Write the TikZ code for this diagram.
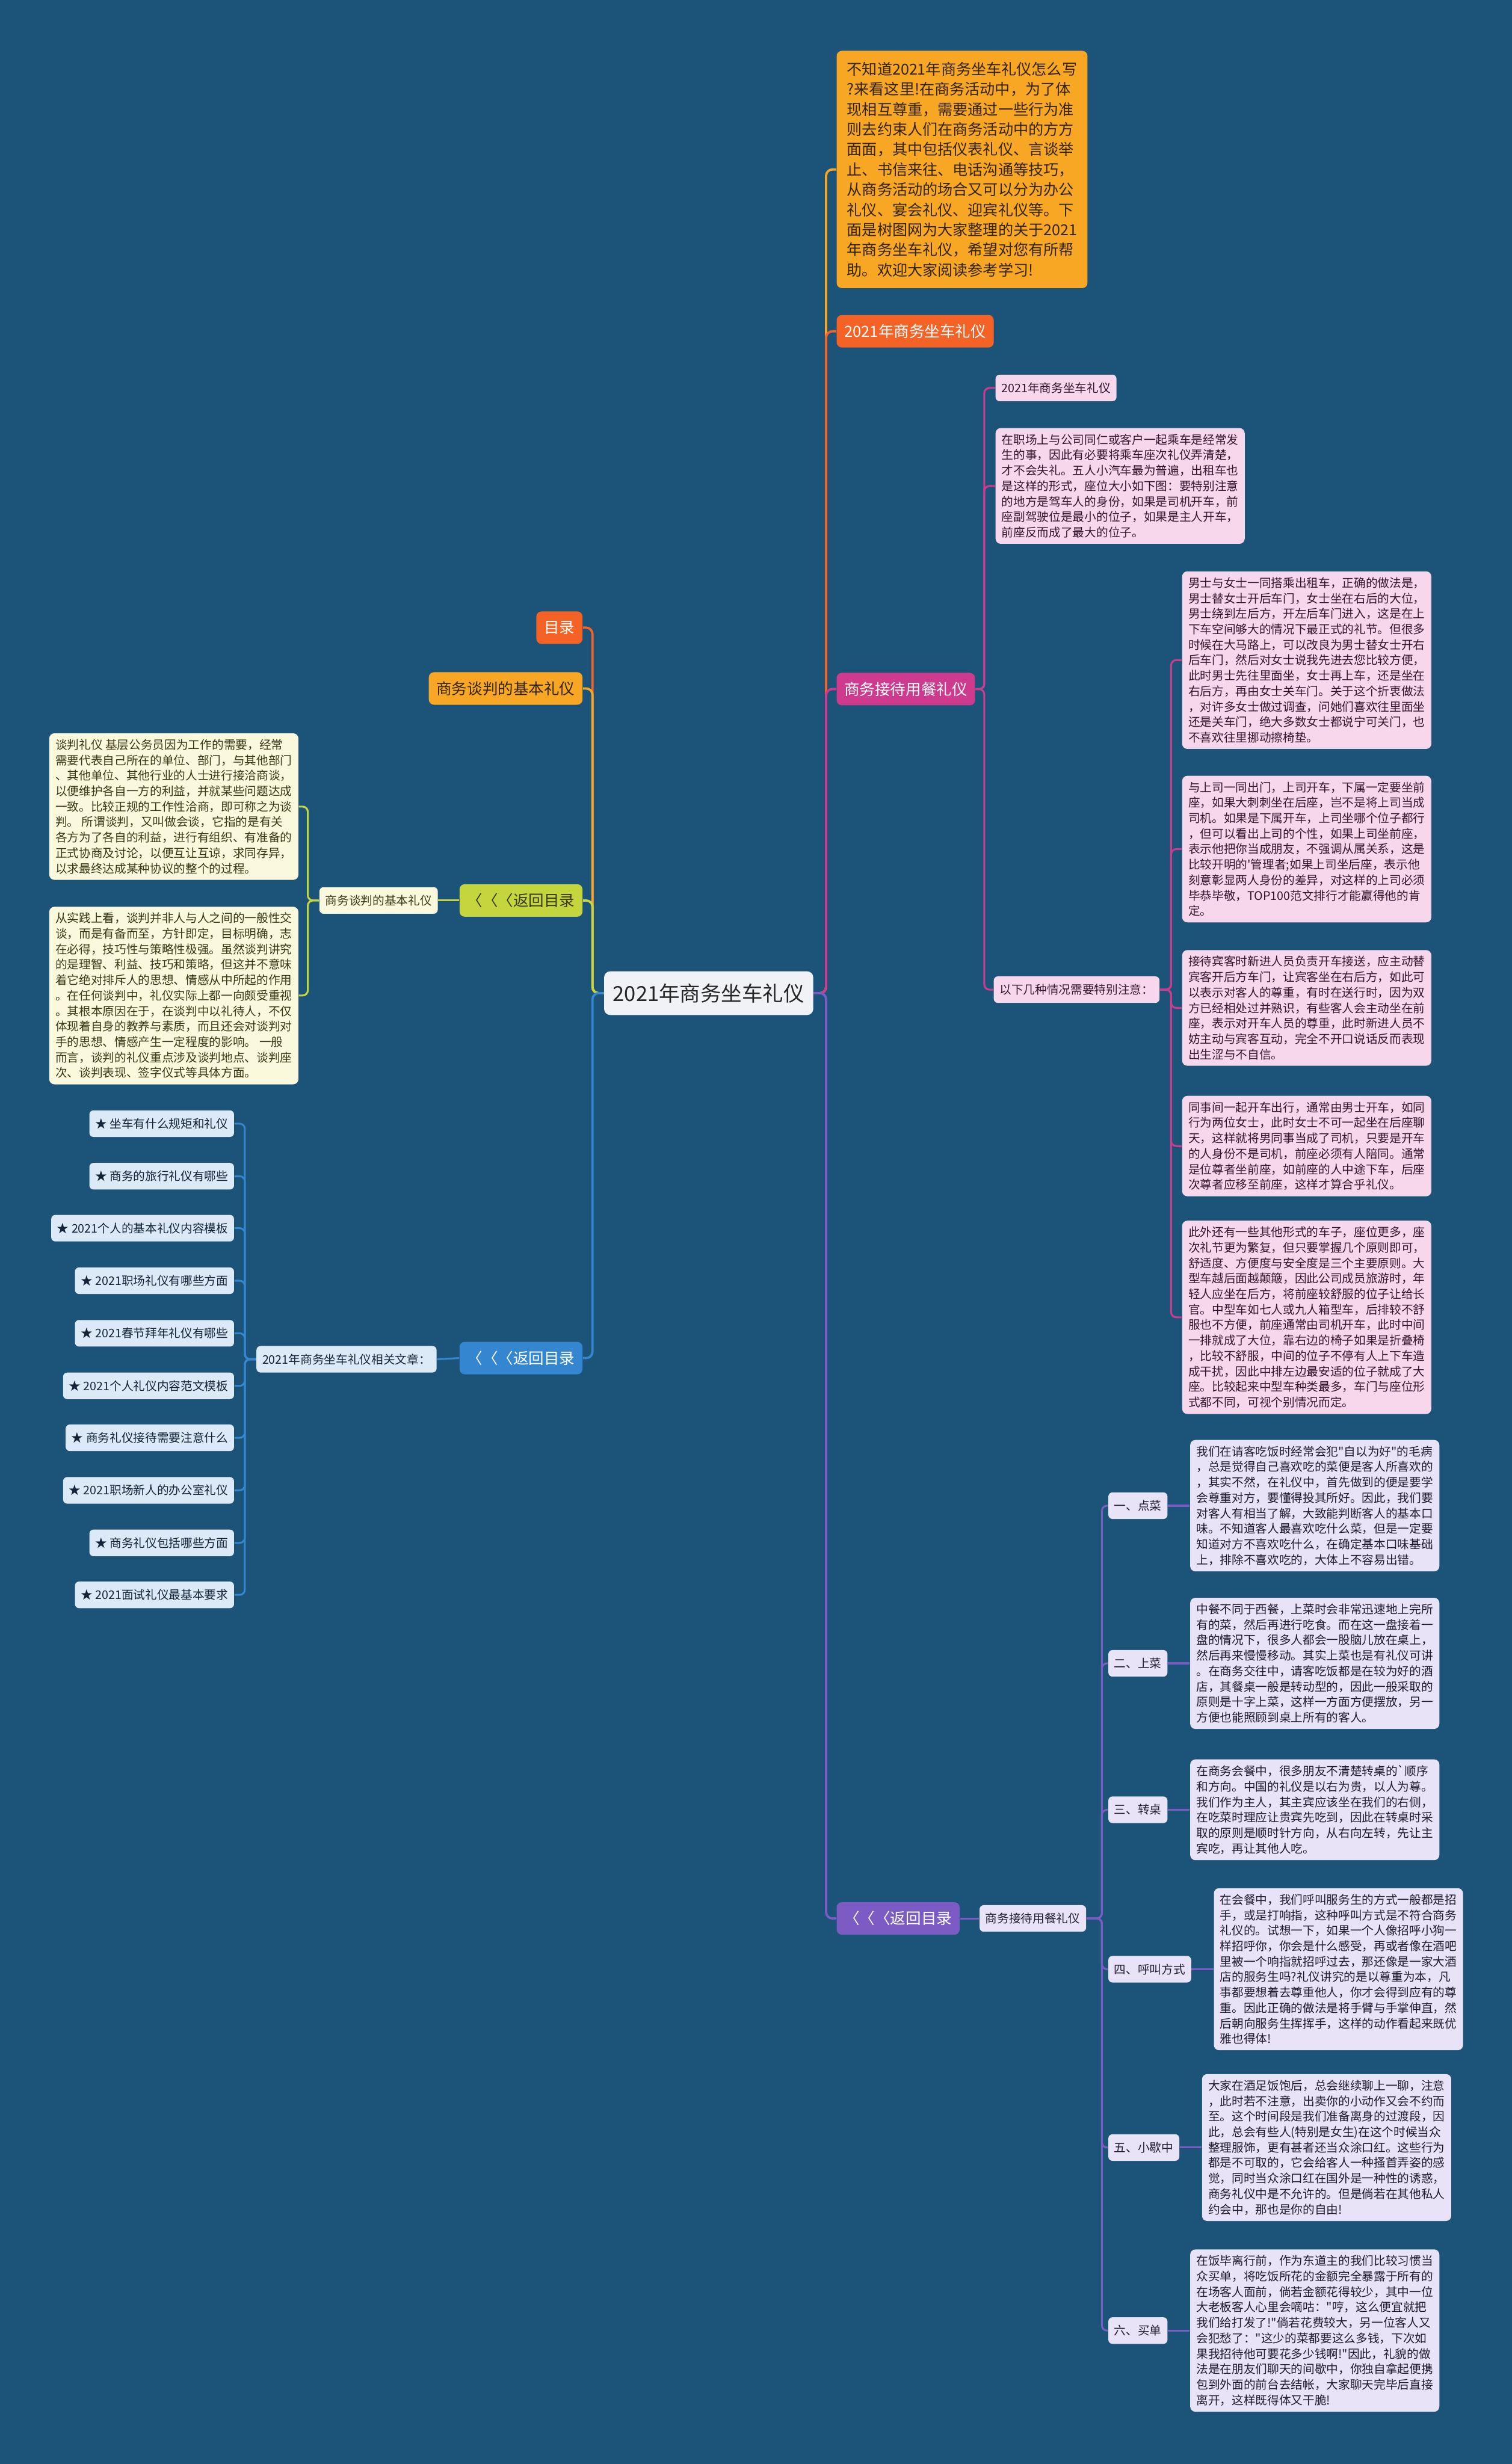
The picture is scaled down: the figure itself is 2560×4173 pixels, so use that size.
\documentclass[tikz,border=0pt]{standalone}
\usepackage{fontspec}
\setmainfont{Noto Sans CJK SC}[Ligatures=TeXOff]
\usetikzlibrary{positioning}

\definecolor{fondo}{RGB}{27,84,120}
\definecolor{naranja}{RGB}{247,167,36}
\definecolor{rojo}{RGB}{244,98,38}
\definecolor{rosa}{RGB}{205,58,142}
\definecolor{morado}{RGB}{124,92,196}
\definecolor{verde}{RGB}{197,213,62}
\definecolor{azul}{RGB}{52,134,208}
\definecolor{gris}{RGB}{240,242,246}
\definecolor{rosaclaro}{RGB}{246,215,235}
\definecolor{lilaclaro}{RGB}{232,227,246}
\definecolor{amarilloclaro}{RGB}{250,249,222}
\definecolor{azulclaro}{RGB}{220,234,248}
\definecolor{marron}{RGB}{52,36,6}
\definecolor{tinto}{RGB}{52,20,46}
\definecolor{oliva}{RGB}{56,56,20}
\definecolor{azuloscuro}{RGB}{20,36,56}
\definecolor{lila}{RGB}{32,26,46}

\begin{document}
\begin{tikzpicture}[
        x=0.01cm, y=-0.01cm,
        raiz/.style={rounded corners=3pt, fill=gris, text=black!85, inner xsep=0.15cm, minimum height=0.74cm, font=\fontsize{10}{12}\selectfont},
        rama/.style={rounded corners=2.5pt, inner xsep=0.13cm, minimum height=0.55cm, font=\fontsize{7.4}{9}\selectfont},
        hoja/.style={rounded corners=2pt, inner xsep=0.1cm, minimum height=0.45cm, font=\fontsize{5.7}{7.45}\selectfont},
        texto/.style={rounded corners=2.5pt, align=left, inner xsep=0.105cm, inner ysep=0.1cm, font=\fontsize{5.7}{7.45}\selectfont},
        enlace/.style={line width=1.1pt, rounded corners=3pt},
        sub/.style={line width=0.9pt, rounded corners=2.5pt}
    ]
        % --- Fondo ---
        \fill[fondo] (0,0) rectangle (2560,4173);
        \useasboundingbox (0,0) rectangle (2560,4173);

        % --- Nodo central ---
        \node[raiz] (raiz) at (1200,1682) {2021年商务坐车礼仪};

        % --- Ramas de la derecha ---
        \node[texto, fill=naranja, text=marron, anchor=west, inner xsep=0.175cm, inner ysep=0.19cm,
              font=\fontsize{7.28}{9.67}\selectfont] (intro) at (1416,287)
            {不知道2021年商务坐车礼仪怎么写\\
             ?来看这里!在商务活动中，为了体\\
             现相互尊重，需要通过一些行为准\\
             则去约束人们在商务活动中的方方\\
             面面，其中包括仪表礼仪、言谈举\\
             止、书信来往、电话沟通等技巧，\\
             从商务活动的场合又可以分为办公\\
             礼仪、宴会礼仪、迎宾礼仪等。下\\
             面是树图网为大家整理的关于2021\\
             年商务坐车礼仪，希望对您有所帮\\
             助。欢迎大家阅读参考学习!};
        \node[rama, fill=rojo, text=white, anchor=west] (titulo) at (1416,561) {2021年商务坐车礼仪};
        \node[rama, fill=rosa, text=white, anchor=west] (recepcion) at (1416,1167) {商务接待用餐礼仪};
        \node[rama, fill=morado, text=white, anchor=west] (volver3) at (1416,3249) {〈〈〈返回目录};

        % --- Ramas de la izquierda ---
        \node[rama, fill=rojo, text=white, anchor=east] (indice) at (987,1063) {目录};
        \node[rama, fill=naranja, text=marron, anchor=east] (negocia) at (987,1166) {商务谈判的基本礼仪};
        \node[rama, fill=verde, text=oliva, anchor=east] (volver1) at (987,1525) {〈〈〈返回目录};
        \node[rama, fill=azul, text=white, anchor=east] (volver2) at (987,2300) {〈〈〈返回目录};

        % Conectores del nodo central
        \draw[enlace, naranja] (raiz.east) -- ++(21,0) |- (intro.west);
        \draw[enlace, rojo] (raiz.east) -- ++(21,0) |- (titulo.west);
        \draw[enlace, rosa] (raiz.east) -- ++(21,0) |- (recepcion.west);
        \draw[enlace, morado] (raiz.east) -- ++(21,0) |- (volver3.west);
        \draw[enlace, rojo] (raiz.west) -- ++(-19,0) |- (indice.east);
        \draw[enlace, naranja] (raiz.west) -- ++(-19,0) |- (negocia.east);
        \draw[enlace, verde] (raiz.west) -- ++(-19,0) |- (volver1.east);
        \draw[enlace, azul] (raiz.west) -- ++(-19,0) |- (volver2.east);

        % --- 1. Recepcion: asientos en el coche ---
        \node[hoja, fill=rosaclaro, text=tinto, anchor=west] (sub1) at (1685,657) {2021年商务坐车礼仪};
        \node[texto, fill=rosaclaro, text=tinto, anchor=west] (asiento) at (1685,823)
            {在职场上与公司同仁或客户一起乘车是经常发\\
             生的事，因此有必要将乘车座次礼仪弄清楚，\\
             才不会失礼。五人小汽车最为普遍，出租车也\\
             是这样的形式，座位大小如下图：要特别注意\\
             的地方是驾车人的身份，如果是司机开车，前\\
             座副驾驶位是最小的位子，如果是主人开车，\\
             前座反而成了最大的位子。};
        \node[hoja, fill=rosaclaro, text=tinto, anchor=west] (atencion) at (1682,1676) {以下几种情况需要特别注意：};

        \node[texto, fill=rosaclaro, text=tinto, anchor=west] (c1) at (2001,1118)
            {男士与女士一同搭乘出租车，正确的做法是，\\
             男士替女士开后车门，女士坐在右后的大位，\\
             男士绕到左后方，开左后车门进入，这是在上\\
             下车空间够大的情况下最正式的礼节。但很多\\
             时候在大马路上，可以改良为男士替女士开右\\
             后车门，然后对女士说我先进去您比较方便，\\
             此时男士先往里面坐，女士再上车，还是坐在\\
             右后方，再由女士关车门。关于这个折衷做法\\
             ，对许多女士做过调查，问她们喜欢往里面坐\\
             还是关车门，绝大多数女士都说宁可关门，也\\
             不喜欢往里挪动擦椅垫。};
        \node[texto, fill=rosaclaro, text=tinto, anchor=west] (c2) at (2001,1438)
            {与上司一同出门，上司开车，下属一定要坐前\\
             座，如果大刺刺坐在后座，岂不是将上司当成\\
             司机。如果是下属开车，上司坐哪个位子都行\\
             ，但可以看出上司的个性，如果上司坐前座，\\
             表示他把你当成朋友，不强调从属关系，这是\\
             比较开明的'管理者;如果上司坐后座，表示他\\
             刻意彰显两人身份的差异，对这样的上司必须\\
             毕恭毕敬，TOP100范文排行才能赢得他的肯\\
             定。};
        \node[texto, fill=rosaclaro, text=tinto, anchor=west] (c3) at (2001,1707)
            {接待宾客时新进人员负责开车接送，应主动替\\
             宾客开后方车门，让宾客坐在右后方，如此可\\
             以表示对客人的尊重，有时在送行时，因为双\\
             方已经相处过并熟识，有些客人会主动坐在前\\
             座，表示对开车人员的尊重，此时新进人员不\\
             妨主动与宾客互动，完全不开口说话反而表现\\
             出生涩与不自信。};
        \node[texto, fill=rosaclaro, text=tinto, anchor=west] (c4) at (2001,1941)
            {同事间一起开车出行，通常由男士开车，如同\\
             行为两位女士，此时女士不可一起坐在后座聊\\
             天，这样就将男同事当成了司机，只要是开车\\
             的人身份不是司机，前座必须有人陪同。通常\\
             是位尊者坐前座，如前座的人中途下车，后座\\
             次尊者应移至前座，这样才算合乎礼仪。};
        \node[texto, fill=rosaclaro, text=tinto, anchor=west] (c5) at (2001,2231)
            {此外还有一些其他形式的车子，座位更多，座\\
             次礼节更为繁复，但只要掌握几个原则即可，\\
             舒适度、方便度与安全度是三个主要原则。大\\
             型车越后面越颠簸，因此公司成员旅游时，年\\
             轻人应坐在后方，将前座较舒服的位子让给长\\
             官。中型车如七人或九人箱型车，后排较不舒\\
             服也不方便，前座通常由司机开车，此时中间\\
             一排就成了大位，靠右边的椅子如果是折叠椅\\
             ，比较不舒服，中间的位子不停有人上下车造\\
             成干扰，因此中排左边最安适的位子就成了大\\
             座。比较起来中型车种类最多，车门与座位形\\
             式都不同，可视个别情况而定。};

        \draw[sub, rosa] (recepcion.east) -- ++(15,0) |- (sub1.west);
        \draw[sub, rosa] (recepcion.east) -- ++(15,0) |- (asiento.west);
        \draw[sub, rosa] (recepcion.east) -- ++(15,0) |- (atencion.west);
        \draw[sub, rosa] (atencion.east) -- ++(19,0) |- (c1.west);
        \draw[sub, rosa] (atencion.east) -- ++(19,0) |- (c2.west);
        \draw[sub, rosa] (atencion.east) -- ++(19,0) |- (c3.west);
        \draw[sub, rosa] (atencion.east) -- ++(19,0) |- (c4.west);
        \draw[sub, rosa] (atencion.east) -- ++(19,0) |- (c5.west);

        % --- 2. Comida de negocios ---
        \node[hoja, fill=lilaclaro, text=lila, anchor=west] (comida) at (1658,3249) {商务接待用餐礼仪};
        \node[hoja, fill=lilaclaro, text=lila, anchor=west] (d1) at (1876,2550) {一、点菜};
        \node[hoja, fill=lilaclaro, text=lila, anchor=west] (d2) at (1876,2817) {二、上菜};
        \node[hoja, fill=lilaclaro, text=lila, anchor=west] (d3) at (1876,3065) {三、转桌};
        \node[hoja, fill=lilaclaro, text=lila, anchor=west] (d4) at (1876,3335) {四、呼叫方式};
        \node[hoja, fill=lilaclaro, text=lila, anchor=west] (d5) at (1876,3637) {五、小歇中};
        \node[hoja, fill=lilaclaro, text=lila, anchor=west] (d6) at (1876,3947) {六、买单};

        \node[texto, fill=lilaclaro, text=lila, right=0.37cm of d1] (t1)
            {我们在请客吃饭时经常会犯"自以为好"的毛病\\
             ，总是觉得自己喜欢吃的菜便是客人所喜欢的\\
             ，其实不然，在礼仪中，首先做到的便是要学\\
             会尊重对方，要懂得投其所好。因此，我们要\\
             对客人有相当了解，大致能判断客人的基本口\\
             味。不知道客人最喜欢吃什么菜，但是一定要\\
             知道对方不喜欢吃什么，在确定基本口味基础\\
             上，排除不喜欢吃的，大体上不容易出错。};
        \node[texto, fill=lilaclaro, text=lila, right=0.37cm of d2] (t2)
            {中餐不同于西餐，上菜时会非常迅速地上完所\\
             有的菜，然后再进行吃食。而在这一盘接着一\\
             盘的情况下，很多人都会一股脑儿放在桌上，\\
             然后再来慢慢移动。其实上菜也是有礼仪可讲\\
             。在商务交往中，请客吃饭都是在较为好的酒\\
             店，其餐桌一般是转动型的，因此一般采取的\\
             原则是十字上菜，这样一方面方便摆放，另一\\
             方便也能照顾到桌上所有的客人。};
        \node[texto, fill=lilaclaro, text=lila, right=0.37cm of d3] (t3)
            {在商务会餐中，很多朋友不清楚转桌的`顺序\\
             和方向。中国的礼仪是以右为贵，以人为尊。\\
             我们作为主人，其主宾应该坐在我们的右侧，\\
             在吃菜时理应让贵宾先吃到，因此在转桌时采\\
             取的原则是顺时针方向，从右向左转，先让主\\
             宾吃，再让其他人吃。};
        \node[texto, fill=lilaclaro, text=lila, right=0.37cm of d4] (t4)
            {在会餐中，我们呼叫服务生的方式一般都是招\\
             手，或是打响指，这种呼叫方式是不符合商务\\
             礼仪的。试想一下，如果一个人像招呼小狗一\\
             样招呼你，你会是什么感受，再或者像在酒吧\\
             里被一个响指就招呼过去，那还像是一家大酒\\
             店的服务生吗?礼仪讲究的是以尊重为本，凡\\
             事都要想着去尊重他人，你才会得到应有的尊\\
             重。因此正确的做法是将手臂与手掌伸直，然\\
             后朝向服务生挥挥手，这样的动作看起来既优\\
             雅也得体!};
        \node[texto, fill=lilaclaro, text=lila, right=0.37cm of d5] (t5)
            {大家在酒足饭饱后，总会继续聊上一聊，注意\\
             ，此时若不注意，出卖你的小动作又会不约而\\
             至。这个时间段是我们准备离身的过渡段，因\\
             此，总会有些人(特别是女生)在这个时候当众\\
             整理服饰，更有甚者还当众涂口红。这些行为\\
             都是不可取的，它会给客人一种搔首弄姿的感\\
             觉，同时当众涂口红在国外是一种性的诱惑，\\
             商务礼仪中是不允许的。但是倘若在其他私人\\
             约会中，那也是你的自由!};
        \node[texto, fill=lilaclaro, text=lila, right=0.37cm of d6] (t6)
            {在饭毕离行前，作为东道主的我们比较习惯当\\
             众买单，将吃饭所花的金额完全暴露于所有的\\
             在场客人面前，倘若金额花得较少，其中一位\\
             大老板客人心里会嘀咕："哼，这么便宜就把\\
             我们给打发了!"倘若花费较大，另一位客人又\\
             会犯愁了："这少的菜都要这么多钱，下次如\\
             果我招待他可要花多少钱啊!"因此，礼貌的做\\
             法是在朋友们聊天的间歇中，你独自拿起便携\\
             包到外面的前台去结帐，大家聊天完毕后直接\\
             离开，这样既得体又干脆!};

        \draw[sub, morado] (volver3.east) -- (comida.west);
        \draw[sub, morado] (comida.east) -- ++(26,0) |- (d1.west);
        \draw[sub, morado] (comida.east) -- ++(26,0) |- (d2.west);
        \draw[sub, morado] (comida.east) -- ++(26,0) |- (d3.west);
        \draw[sub, morado] (comida.east) -- ++(26,0) |- (d4.west);
        \draw[sub, morado] (comida.east) -- ++(26,0) |- (d5.west);
        \draw[sub, morado] (comida.east) -- ++(26,0) |- (d6.west);
        \draw[sub, morado] (d1.east) -- (t1.west);
        \draw[sub, morado] (d2.east) -- (t2.west);
        \draw[sub, morado] (d3.east) -- (t3.west);
        \draw[sub, morado] (d4.east) -- (t4.west);
        \draw[sub, morado] (d5.east) -- (t5.west);
        \draw[sub, morado] (d6.east) -- (t6.west);

        % --- 3. Negociacion ---
        \node[hoja, fill=amarilloclaro, text=oliva, anchor=east] (negocia2) at (742,1525) {商务谈判的基本礼仪};
        \node[texto, fill=amarilloclaro, text=oliva, anchor=east] (n1) at (506,1366)
            {谈判礼仪 基层公务员因为工作的需要，经常\\
             需要代表自己所在的单位、部门，与其他部门\\
             、其他单位、其他行业的人士进行接洽商谈，\\
             以便维护各自一方的利益，并就某些问题达成\\
             一致。比较正规的工作性洽商，即可称之为谈\\
             判。 所谓谈判，又叫做会谈，它指的是有关\\
             各方为了各自的利益，进行有组织、有准备的\\
             正式协商及讨论，以便互让互谅，求同存异，\\
             以求最终达成某种协议的整个的过程。};
        \node[texto, fill=amarilloclaro, text=oliva, anchor=east] (n2) at (506,1686)
            {从实践上看，谈判并非人与人之间的一般性交\\
             谈，而是有备而至，方针即定，目标明确，志\\
             在必得，技巧性与策略性极强。虽然谈判讲究\\
             的是理智、利益、技巧和策略，但这并不意味\\
             着它绝对排斥人的思想、情感从中所起的作用\\
             。在任何谈判中，礼仪实际上都一向颇受重视\\
             。其根本原因在于，在谈判中以礼待人，不仅\\
             体现着自身的教养与素质，而且还会对谈判对\\
             手的思想、情感产生一定程度的影响。 一般\\
             而言，谈判的礼仪重点涉及谈判地点、谈判座\\
             次、谈判表现、签字仪式等具体方面。};

        \draw[sub, verde] (volver1.west) -- (negocia2.east);
        \draw[sub, verde] (negocia2.west) -- ++(-19,0) |- (n1.east);
        \draw[sub, verde] (negocia2.west) -- ++(-19,0) |- (n2.east);

        % --- 4. Articulos relacionados ---
        \node[hoja, fill=azulclaro, text=azuloscuro, anchor=east] (articulos) at (740,2302) {2021年商务坐车礼仪相关文章：};
        \node[hoja, fill=azulclaro, text=azuloscuro, anchor=east] (a1) at (397,1903) {★ 坐车有什么规矩和礼仪};
        \node[hoja, fill=azulclaro, text=azuloscuro, anchor=east] (a2) at (397,1992) {★ 商务的旅行礼仪有哪些};
        \node[hoja, fill=azulclaro, text=azuloscuro, anchor=east] (a3) at (397,2080) {★ 2021个人的基本礼仪内容模板};
        \node[hoja, fill=azulclaro, text=azuloscuro, anchor=east] (a4) at (397,2169) {★ 2021职场礼仪有哪些方面};
        \node[hoja, fill=azulclaro, text=azuloscuro, anchor=east] (a5) at (397,2258) {★ 2021春节拜年礼仪有哪些};
        \node[hoja, fill=azulclaro, text=azuloscuro, anchor=east] (a6) at (397,2347) {★ 2021个人礼仪内容范文模板};
        \node[hoja, fill=azulclaro, text=azuloscuro, anchor=east] (a7) at (397,2435) {★ 商务礼仪接待需要注意什么};
        \node[hoja, fill=azulclaro, text=azuloscuro, anchor=east] (a8) at (397,2524) {★ 2021职场新人的办公室礼仪};
        \node[hoja, fill=azulclaro, text=azuloscuro, anchor=east] (a9) at (397,2613) {★ 商务礼仪包括哪些方面};
        \node[hoja, fill=azulclaro, text=azuloscuro, anchor=east] (a10) at (397,2701) {★ 2021面试礼仪最基本要求};

        \draw[sub, azul] (volver2.west) -- (articulos.east);
        \draw[sub, azul] (articulos.west) -- ++(-19,0) |- (a1.east);
        \draw[sub, azul] (articulos.west) -- ++(-19,0) |- (a2.east);
        \draw[sub, azul] (articulos.west) -- ++(-19,0) |- (a3.east);
        \draw[sub, azul] (articulos.west) -- ++(-19,0) |- (a4.east);
        \draw[sub, azul] (articulos.west) -- ++(-19,0) |- (a5.east);
        \draw[sub, azul] (articulos.west) -- ++(-19,0) |- (a6.east);
        \draw[sub, azul] (articulos.west) -- ++(-19,0) |- (a7.east);
        \draw[sub, azul] (articulos.west) -- ++(-19,0) |- (a8.east);
        \draw[sub, azul] (articulos.west) -- ++(-19,0) |- (a9.east);
        \draw[sub, azul] (articulos.west) -- ++(-19,0) |- (a10.east);

    \end{tikzpicture}
\end{document}
